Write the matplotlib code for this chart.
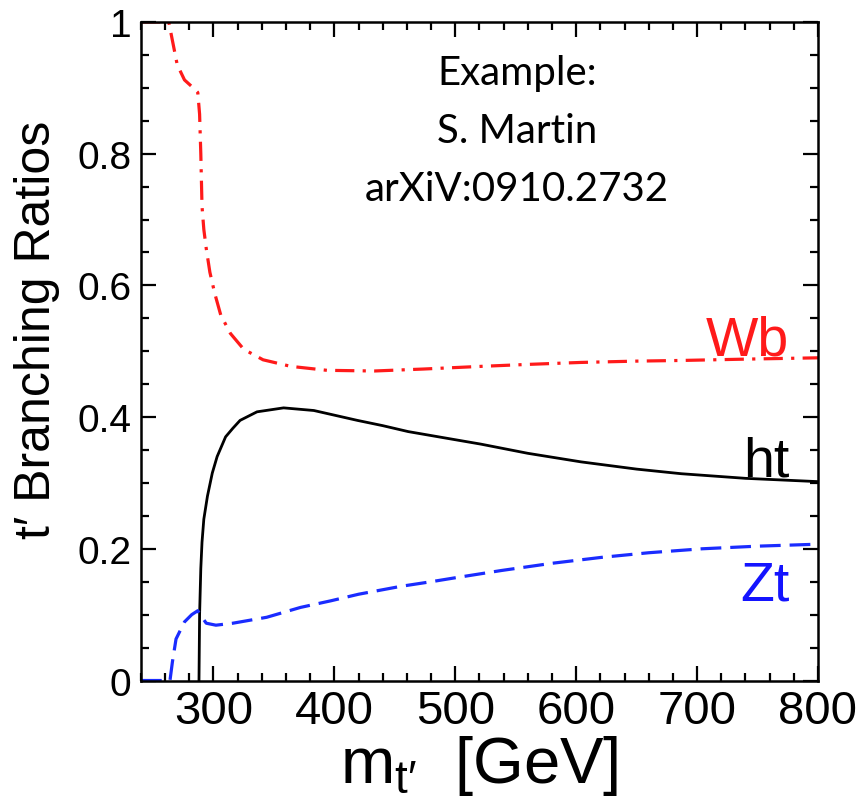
import matplotlib
matplotlib.use("Agg")
import matplotlib.pyplot as plt
from matplotlib.ticker import MultipleLocator, FixedLocator

# t' -> Wb / ht / Zt branching ratios vs t' mass
mass_wb = [240, 263, 266, 270, 276, 282, 287, 288.5, 289.5, 290.5, 292, 294, 297,
           301, 306, 314, 325, 341, 364, 394, 433, 474, 521, 560, 604, 650, 687,
           740, 800]
br_wb = [1.0, 1.0, 0.972, 0.935, 0.912, 0.902, 0.893, 0.86, 0.80, 0.72, 0.685,
         0.656, 0.62, 0.588, 0.555, 0.527, 0.503, 0.487, 0.477, 0.471, 0.470,
         0.473, 0.477, 0.480, 0.483, 0.485, 0.486, 0.488, 0.490]

mass_ht = [288, 288.5, 289.5, 290.5, 292, 295, 299, 303, 310, 316, 322, 336, 358,
           383, 419, 440, 461, 502, 521, 560, 604, 650, 687, 740, 800]
br_ht = [0.0, 0.10, 0.17, 0.21, 0.245, 0.28, 0.315, 0.34, 0.37, 0.383, 0.395,
         0.408, 0.414, 0.410, 0.395, 0.387, 0.378, 0.365, 0.359, 0.345, 0.332,
         0.321, 0.314, 0.307, 0.302]

mass_zt = [240, 264, 266, 269, 276, 282, 287, 289, 294, 302, 316, 344, 372, 397,
           420, 455, 480, 500, 538, 580, 621, 660, 704, 750, 800]
br_zt = [0.0, 0.0, 0.028, 0.063, 0.089, 0.100, 0.106, 0.100, 0.087, 0.084, 0.087,
         0.096, 0.111, 0.121, 0.131, 0.143, 0.150, 0.156, 0.167, 0.178, 0.187,
         0.194, 0.200, 0.204, 0.207]

x_ticks = [300, 400, 500, 600, 700, 800]
y_ticks = [0, 0.2, 0.4, 0.6, 0.8, 1.0]
y_ticklabels = ["0", "0.2", "0.4", "0.6", "0.8", "1"]

# channel labels: (text, x, y, colour)
channel_labels = [("Wb", 742, 0.517, "#ff1a1a"),
                  ("ht", 757, 0.332, "black"),
                  ("Zt", 756, 0.144, "#1414ff")]

note_lines = ["Example:", "S. Martin", "arXiV:0910.2732"]

plt.rcParams["font.family"] = ["Liberation Sans", "DejaVu Sans"]
plt.rcParams["mathtext.fontset"] = "custom"
plt.rcParams["mathtext.rm"] = "Liberation Sans"
plt.rcParams["mathtext.it"] = "Liberation Sans"

fig = plt.figure(figsize=(8.59, 8.03), dpi=100)
ax = fig.add_axes([0.1641, 0.1513, 0.7881, 0.8201])

ax.plot(mass_wb, br_wb, color="#ff1a1a", lw=2.3, dashes=(6, 2.6, 1, 2.6))
ax.plot(mass_ht, br_ht, color="black", lw=2.0)
ax.plot(mass_zt, br_zt, color="#1a2cff", lw=2.3, dashes=(6.5, 2.8))

for txt, x, y, c in channel_labels:
    ax.text(x, y, txt, color=c, fontsize=40, ha="center", va="center")

ax.set_xlim(240, 800)
ax.set_ylim(0, 1)
ax.xaxis.set_major_locator(FixedLocator(x_ticks))
ax.xaxis.set_minor_locator(MultipleLocator(20))
ax.yaxis.set_major_locator(FixedLocator(y_ticks))
ax.yaxis.set_minor_locator(MultipleLocator(0.05))
ax.set_yticklabels(y_ticklabels)

for s in ax.spines.values():
    s.set_linewidth(1.8)
ax.tick_params(which="both", direction="in", top=True, right=True, width=1.6)
ax.tick_params(which="major", length=11)
ax.tick_params(which="minor", length=6)
ax.tick_params(axis="x", labelsize=34, pad=6)
ax.tick_params(axis="y", labelsize=28, pad=7)

ax.set_xlabel("m$_{\\mathregular{t\u2032}}$  [GeV]", fontsize=47, labelpad=0)
ax.set_ylabel("t\u2032 Branching Ratios", fontsize=36)
ax.yaxis.set_label_coords(-0.154, 0.534)
ax.yaxis.label.set(ha="center", va="center", rotation_mode="default")

for i, line in enumerate(note_lines):
    fig.text(0.602, 0.909 - i * 0.0725, line, fontsize=29, family="Lato",
             ha="center", va="center")

fig.savefig("out.png", dpi=100)
